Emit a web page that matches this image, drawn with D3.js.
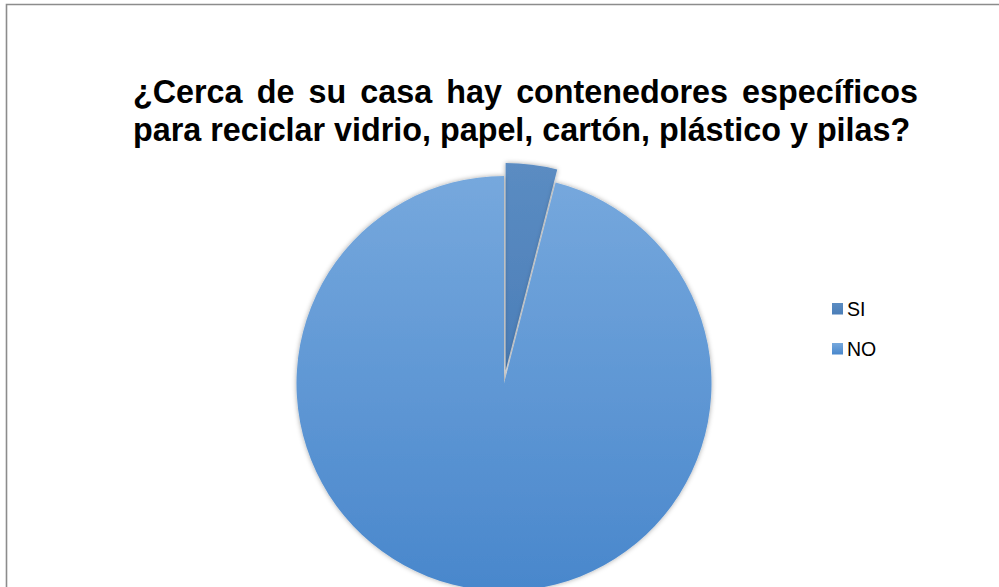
<!DOCTYPE html>
<html><head><meta charset="utf-8">
<script src="https://cdn.jsdelivr.net/npm/d3@7"></script>
<style>html,body{margin:0;padding:0;background:#fff;overflow:hidden}</style>
</head><body>
<svg id="c" width="999" height="587"></svg>
<script>
const categories = ["SI", "NO"];
const values = [4, 96];
const titleLines = ["¿Cerca de su casa hay contenedores específicos", "para reciclar vidrio, papel, cartón, plástico y pilas?"];

const svg = d3.select("#c");
const defs = svg.append("defs");
const f = defs.append("filter").attr("id","sh").attr("x","-20%").attr("y","-20%").attr("width","140%").attr("height","140%");
f.append("feDropShadow").attr("dx",0).attr("dy",0).attr("stdDeviation",2.5).attr("flood-color","#000").attr("flood-opacity",0.35);

const gNO = defs.append("linearGradient").attr("id","gNO").attr("x1",0).attr("y1",0).attr("x2",0).attr("y2",1);
gNO.append("stop").attr("offset",0).attr("stop-color","#76a8dd");
gNO.append("stop").attr("offset",1).attr("stop-color","#4987cc");
const gSI = defs.append("linearGradient").attr("id","gSI").attr("x1",0).attr("y1",0).attr("x2",0).attr("y2",1);
gSI.append("stop").attr("offset",0).attr("stop-color","#5b8cc2");
gSI.append("stop").attr("offset",1).attr("stop-color","#4b7eb8");
const fills = {SI:"url(#gSI)", NO:"url(#gNO)"};
const legendFills = {SI:"url(#gSI)", NO:"url(#gNO)"};

// border
svg.append("path").attr("d","M6.5,587 V4.5 H999").attr("fill","none").attr("stroke","#8c8c8c").attr("stroke-width",1.6);

// title (justified first line)
const font = "bold 32.3px 'Liberation Sans', Arial, sans-serif";
const left = 133, right = 918;
titleLines.forEach((line, i) => {
  const y = 103 + i*38;
  if (i === 0) {
    const words = line.split(" ");
    const tmp = svg.append("text").style("font", font);
    const widths = words.map(w => { tmp.text(w); return tmp.node().getComputedTextLength(); });
    tmp.remove();
    const total = d3.sum(widths);
    const gap = (right - left - total) / (words.length - 1);
    let x = left;
    words.forEach((w, j) => {
      svg.append("text").attr("x", x).attr("y", y).style("font", font).attr("fill","#000").text(w);
      x += widths[j] + gap;
    });
  } else {
    svg.append("text").attr("x", left).attr("y", y).style("font", font).attr("fill","#000").text(line);
  }
});

// pie
const cx = 504, cy = 383.5, r = 207.5;
const data = categories.map((c,i)=>({cat:c, v:values[i]}));
const pie = d3.pie().value(d=>d.v).sort(null);
const arc = d3.arc().innerRadius(0).outerRadius(r);
const arcs = pie(data);
const g = svg.append("g").attr("transform",`translate(${cx},${cy})`);
g.selectAll("path").data(arcs).join("path")
  .attr("d", arc)
  .attr("fill", d => fills[d.data.cat])
  .attr("filter","url(#sh)")
  .attr("transform", d => {
    if (d.data.cat !== "SI") return null;
    const m = (d.startAngle + d.endAngle)/2, off = 13;
    return `translate(${off*Math.sin(m)},${-off*Math.cos(m)})`;
  });

// legend
const lg = svg.append("g");
categories.forEach((c,i) => {
  const y = 303 + i*40;
  lg.append("rect").attr("x",832).attr("y",y).attr("width",11).attr("height",11.5).attr("fill",legendFills[c]);
  lg.append("text").attr("x",847).attr("y",y+13).style("font","19.5px 'Liberation Sans', Arial, sans-serif").attr("fill","#000").text(c);
});
</script>
</body></html>
